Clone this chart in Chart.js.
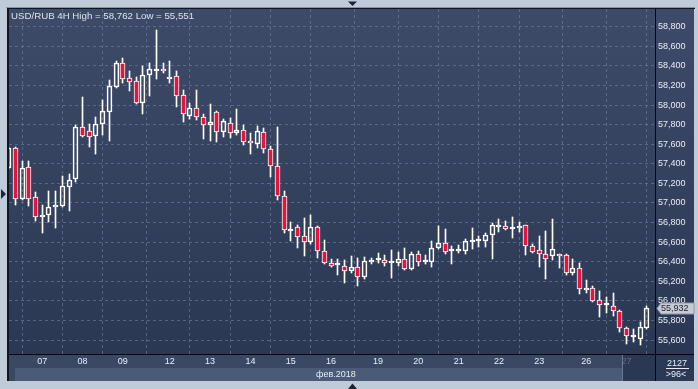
<!DOCTYPE html>
<html><head><meta charset="utf-8">
<script src="https://cdn.jsdelivr.net/npm/chart.js@4.4.1/dist/chart.umd.min.js"></script>
<style>html,body{margin:0;padding:0;background:#c0cbd9;overflow:hidden}#wrap{width:698px;height:389px;position:relative}canvas{display:block}</style>
</head><body><div id="wrap"><canvas id="c" width="698" height="389"></canvas></div>
<script>
const titleText = 'USD/RUB 4H High = 58,762 Low = 55,551';
const monthLabel = 'фев.2018';
const sideValue = '2127';
const barCountLabel = '>96<';

const opens = [57360,57558,57038,57364,57058,56854,56880,56956,56969,57166,57242,57773,57735,57687,57804,57932,58187,58426,58273,58246,58018,58304,58348,58358,58263,58294,58106,57891,57967,57875,57793,57926,57722,57814,57712,57745,57633,57599,57722,57548,57375,57068,56715,56755,56660,56599,56755,56510,56387,56365,56357,56309,56344,56247,56400,56413,56415,56390,56384,56425,56323,56476,56401,56395,56538,56589,56510,56510,56513,56599,56612,56615,56670,56758,56768,56735,56742,56772,56561,56520,56479,56459,56465,56466,56288,56333,56112,56129,56007,55956,55945,55897,55721,55628,55608,55724];
const highs = [57570,57570,57429,57429,57112,56979,57122,57122,57276,57296,57796,58085,57806,57875,58052,58256,58450,58484,58348,58290,58399,58426,58762,58432,58450,58351,58154,58018,58154,57909,58011,57940,57858,57865,57960,57796,57712,57786,57766,57582,57779,57126,56803,56775,56850,56877,56765,56622,56425,56425,56418,56459,56441,56452,56435,56486,56469,56520,56497,56541,56503,56510,56469,56612,56765,56735,56564,56568,56633,56748,56663,56697,56793,56837,56816,56860,56803,56775,56581,56663,56714,56834,56479,56476,56425,56384,56214,56153,56102,56043,56084,55907,55737,55710,55788,55945];
const lows = [57350,56983,57031,56969,56819,56697,56809,56742,56962,56921,57217,57674,57575,57500,57697,57636,58171,58228,58146,58011,57906,58092,58263,58324,58222,57977,57830,57855,57847,57650,57636,57626,57671,57661,57694,57592,57500,57565,57507,57268,57031,56691,56615,56544,56462,56578,56441,56374,56343,56265,56186,56288,56156,56224,56377,56384,56360,56231,56360,56316,56316,56360,56377,56350,56530,56479,56377,56486,56479,56527,56548,56554,56428,56707,56724,56646,56707,56469,56493,56350,56224,56418,56339,56265,56265,56071,56078,55989,55839,55880,55846,55686,55560,55584,55551,55717];
const closes = [57560,57044,57354,57038,56854,56878,56956,56976,57170,57235,57773,57687,57677,57807,57936,58195,58426,58263,58232,58018,58304,58365,58363,58345,58283,58089,57909,57967,57875,57793,57824,57728,57834,57712,57745,57626,57610,57732,57548,57375,57068,56724,56725,56650,56599,56755,56513,56384,56360,56372,56309,56344,56247,56405,56405,56418,56390,56393,56425,56323,56479,56401,56405,56538,56589,56503,56513,56515,56609,56615,56615,56673,56772,56775,56731,56738,56765,56561,56503,56476,56425,56530,56460,56288,56333,56119,56129,56000,55956,55960,55897,55721,55642,55632,55731,55932];

const dayLabels = ['07','08','09','12','13','14','15','16','19','20','21','22','23','26','27'];
const dayStarts = [5,11,17,24,30,36,42,48,55,61,67,73,79,86,92];
const yTicks = [55600,55800,56000,56200,56400,56600,56800,57000,57200,57400,57600,57800,58000,58200,58400,58600,58800];

const RED = '#e8123c';
const FONT = '"Liberation Sans", Arial, sans-serif';

const idx = opens.map((_, i) => i);
const bodyData = idx.map(i => ({x: i, y: [opens[i], closes[i]]}));
const wickLow = idx.map(i => ({x: i, y: [lows[i], Math.min(opens[i], closes[i])]}));
const wickHigh = idx.map(i => ({x: i, y: [Math.max(opens[i], closes[i]), highs[i]]}));
const bodyFill = idx.map(i => closes[i] < opens[i] ? RED : 'rgba(0,0,0,0)');

// snap bar elements to whole pixels so candles are crisp
const snapPlugin = {
  id: 'snap',
  beforeDatasetsDraw(chart) {
    chart.data.datasets.forEach((ds, di) => {
      const meta = chart.getDatasetMeta(di);
      meta.data.forEach(el => {
        el.x = Math.floor(el.x) + 0.5;
        el.y = Math.round(el.y);
        el.base = Math.round(el.base);
      });
    });
  }
};

const framePlugin = {
  id: 'frame',
  beforeDraw(chart) {
    const ctx = chart.ctx, a = chart.chartArea, W = chart.width, H = chart.height;
    ctx.save();
    ctx.fillStyle = '#c0cbd9';
    ctx.fillRect(0, 0, W, H);
    const g = ctx.createLinearGradient(0, a.top, 0, a.bottom);
    g.addColorStop(0, '#3e4b68');
    g.addColorStop(1, '#2b3854');
    ctx.fillStyle = g;
    ctx.fillRect(a.left, a.top, 694 - a.left, a.bottom - a.top);
    ctx.fillStyle = '#3a4864';
    ctx.fillRect(a.left, a.bottom, a.right - a.left, 27);
    ctx.fillStyle = '#4b5a76';
    ctx.fillRect(15, a.bottom + 14, 623 - 15, 13);
    ctx.fillStyle = '#2c3954';
    ctx.fillRect(a.right, a.bottom, 694 - a.right, 27);
    ctx.fillStyle = '#8793a6';
    ctx.fillRect(6, 7, 689, 1);
    ctx.fillStyle = '#10151f';
    ctx.fillRect(7, 8, 688, 1);
    ctx.fillRect(7, 8, 2, 373);
    ctx.restore();
  },
  afterDraw(chart) {
    const ctx = chart.ctx, a = chart.chartArea;
    const ys = chart.scales.y;
    ctx.save();
    ctx.fillStyle = 'rgba(38,50,76,0.72)';
    ctx.fillRect(623, a.bottom + 1, a.right - 623, 26);
    ctx.fillStyle = '#6c7891';
    ctx.fillRect(622, a.bottom + 1, 1, 26);
    ctx.fillStyle = '#05070b';
    ctx.fillRect(a.left, Math.round(a.bottom), 694 - a.left, 1);
    ctx.fillRect(Math.round(a.right), a.top, 1, 381 - a.top);
    ctx.font = '9.7px ' + FONT;
    ctx.fillStyle = '#dbe2ec';
    ctx.textBaseline = 'alphabetic';
    ctx.textAlign = 'left';
    ctx.fillText(titleText, 11, 18.5);
    ctx.font = '9px ' + FONT;
    ctx.fillStyle = '#e6edf8';
    ctx.fillText(monthLabel, 316, 377);
    ctx.textAlign = 'center';
    ctx.fillText(sideValue, 677, 366);
    ctx.fillRect(666, 368, 23, 1);
    ctx.fillText(barCountLabel, 676, 377);
    const last = closes[closes.length - 1];
    const py = Math.round(ys.getPixelForValue(last)) + 0.5;
    ctx.beginPath();
    ctx.moveTo(657, py);
    ctx.lineTo(661, py - 5.5);
    ctx.lineTo(694, py - 5.5);
    ctx.lineTo(694, py + 5.5);
    ctx.lineTo(661, py + 5.5);
    ctx.closePath();
    ctx.fillStyle = '#c6cbd3';
    ctx.fill();
    ctx.strokeStyle = '#8c97a8';
    ctx.lineWidth = 1;
    ctx.stroke();
    ctx.fillStyle = '#1a2030';
    ctx.textAlign = 'left';
    ctx.textBaseline = 'middle';
    ctx.fillText(last.toLocaleString('en-US'), 661, py + 0.5);
    ctx.fillStyle = '#1c2436';
    ctx.beginPath(); ctx.moveTo(348, 1.5); ctx.lineTo(357, 1.5); ctx.lineTo(352.5, 6); ctx.closePath(); ctx.fill();
    ctx.beginPath(); ctx.moveTo(348, 389); ctx.lineTo(357, 389); ctx.lineTo(352.5, 383.5); ctx.closePath(); ctx.fill();
    ctx.beginPath(); ctx.moveTo(1, 189); ctx.lineTo(1, 199); ctx.lineTo(6, 194); ctx.closePath(); ctx.fill();
    ctx.restore();
  }
};

const common = {grouped: false, categoryPercentage: 1, barPercentage: 1, borderSkipped: false};

new Chart(document.getElementById('c'), {
  type: 'bar',
  data: {
    datasets: [
      Object.assign({label: 'body', data: bodyData, order: 0, backgroundColor: bodyFill,
        borderColor: '#ffffff', borderWidth: 1, barThickness: 5, maxBarThickness: 5, minBarLength: 2}, common),
      Object.assign({label: 'wickHigh', data: wickHigh, order: 1, backgroundColor: '#ffffff',
        borderWidth: 0, barThickness: 1, maxBarThickness: 1}, common),
      Object.assign({label: 'wickLow', data: wickLow, order: 2, backgroundColor: '#ffffff',
        borderWidth: 0, barThickness: 1, maxBarThickness: 1}, common)
    ]
  },
  options: {
    responsive: false,
    animation: false,
    devicePixelRatio: 1,
    layout: {padding: {left: 9, top: 9, right: 4, bottom: 8}},
    plugins: {legend: {display: false}, tooltip: {enabled: false}},
    scales: {
      x: {
        type: 'linear', position: 'bottom', bounds: 'data', min: 0.06, max: 96.23, offset: false,
        afterFit(s) { s.height = 27; },
        afterBuildTicks(s) { s.ticks = dayStarts.map(v => ({value: v})); },
        ticks: {autoSkip: false, maxRotation: 0, padding: 2, color: '#e6edf8',
          font: {family: FONT, size: 9}, callback(v, i) { return dayLabels[i]; }},
        grid: {color: 'rgba(112,128,160,0.6)', drawTicks: false, lineWidth: 1},
        border: {display: false, dash: [3, 3]}
      },
      y: {
        type: 'linear', position: 'right', bounds: 'data', min: 55458, max: 58981,
        afterFit(s) { s.width = 39; },
        afterBuildTicks(s) { s.ticks = yTicks.map(v => ({value: v})); },
        ticks: {padding: 3, color: '#e6edf8', font: {family: FONT, size: 9},
          callback(v) { return Number(v).toLocaleString('en-US'); }},
        grid: {color: 'rgba(112,128,160,0.6)', drawTicks: false, lineWidth: 1},
        border: {display: false, dash: [3, 3]}
      }
    }
  },
  plugins: [snapPlugin, framePlugin]
});
</script></body></html>
